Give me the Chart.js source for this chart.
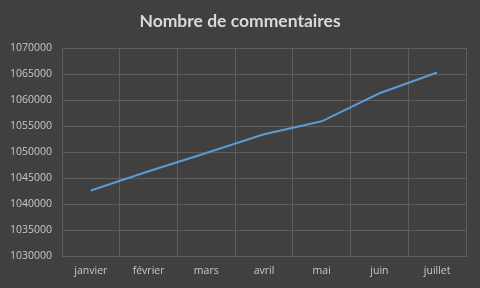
<!DOCTYPE html>
<html>
<head>
<meta charset="utf-8">
<script src="https://cdn.jsdelivr.net/npm/chart.js@4/dist/chart.umd.min.js"></script>
<style>
  html, body { margin: 0; padding: 0; background: #404040; }
  #wrap { width: 480px; height: 288px; position: relative; }
</style>
</head>
<body>
<div id="wrap"><canvas id="line-chart"></canvas></div>
<script>
const months = ["janvier", "février", "mars", "avril", "mai", "juin", "juillet"];
const comments = [1042600, 1046300, 1049800, 1053400, 1055900, 1061300, 1065300];
const yMin = 1030000, yMax = 1070000, yStep = 5000;

const gridColor = "#5e5e5e";
const textColor = "#c8c8c8";

new Chart(document.getElementById("line-chart"), {
    type: 'line',
    data: {
        labels: months,
        datasets: [{
            label: "Nombre de commentaires",
            data: comments,
            borderColor: "#5b9bd5",
            borderWidth: 2,
            pointRadius: 0,
            tension: 0,
            fill: false
        }]
    },
    options: {
        responsive: true,
        maintainAspectRatio: false,
        animation: false,
        plugins: {
            legend: { display: false },
            tooltip: { enabled: false },
            title: {
                display: true,
                text: 'Nombre de commentaires',
                color: "#d9d9d9",
                font: { family: "Lato", size: 17.5, weight: 'bold', lineHeight: 1.2 },
                padding: { top: 11, bottom: 16 }
            }
        },
        scales: {
            x: {
                offset: true,
                grid: { offset: true, color: gridColor, drawTicks: false },
                border: { color: gridColor },
                ticks: { color: textColor, font: { family: "'Open Sans'", size: 10.5 }, padding: 9, maxRotation: 0 },
                afterFit: s => { s.height = 32; }
            },
            y: {
                min: yMin,
                max: yMax,
                grid: { color: gridColor, drawTicks: false },
                border: { color: gridColor },
                ticks: {
                    stepSize: yStep,
                    color: textColor,
                    font: { family: "'Open Sans'", size: 10.5 },
                    padding: 10,
                    callback: v => String(v)
                },
                afterFit: s => { s.width = 62; }
            },
            // empty right axis, only reserves the right margin
            yRight: {
                position: 'right',
                min: yMin,
                max: yMax,
                grid: { display: false, drawTicks: false },
                border: { display: false },
                ticks: { display: false },
                afterFit: s => { s.width = 14; }
            }
        }
    }
});
</script>
</body>
</html>
